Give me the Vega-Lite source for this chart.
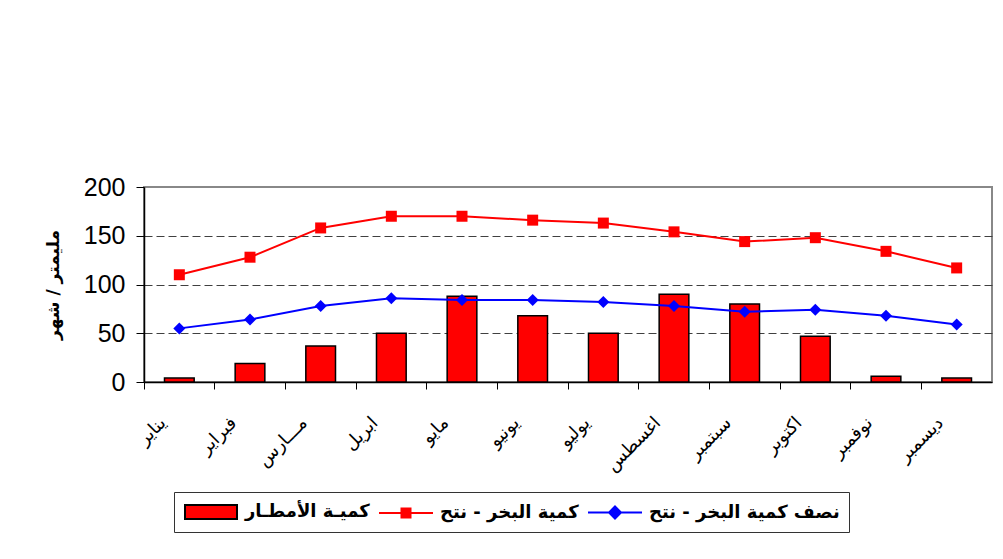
{
  "$schema": "https://vega.github.io/schema/vega-lite/v6.json",
  "width": 848,
  "height": 195,
  "autosize": {"type": "none"},
  "padding": {"left": 144, "top": 187, "right": 11, "bottom": 177},
  "background": "white",
  "data": {
    "values": [
      {"month": "يناير", "series": "كميـة الأمطـار", "value": 4},
      {"month": "فبراير", "series": "كميـة الأمطـار", "value": 19},
      {"month": "مـــارس", "series": "كميـة الأمطـار", "value": 37},
      {"month": "ابريل", "series": "كميـة الأمطـار", "value": 50},
      {"month": "مايو", "series": "كميـة الأمطـار", "value": 88},
      {"month": "يونيو", "series": "كميـة الأمطـار", "value": 68},
      {"month": "يوليو", "series": "كميـة الأمطـار", "value": 50},
      {"month": "اغسطس", "series": "كميـة الأمطـار", "value": 90},
      {"month": "سبتمبر", "series": "كميـة الأمطـار", "value": 80},
      {"month": "اكتوبر", "series": "كميـة الأمطـار", "value": 47},
      {"month": "نوفمبر", "series": "كميـة الأمطـار", "value": 6},
      {"month": "ديسمبر", "series": "كميـة الأمطـار", "value": 4},
      {"month": "يناير", "series": "كمية البخر - نتح", "value": 110},
      {"month": "فبراير", "series": "كمية البخر - نتح", "value": 128},
      {"month": "مـــارس", "series": "كمية البخر - نتح", "value": 158},
      {"month": "ابريل", "series": "كمية البخر - نتح", "value": 170},
      {"month": "مايو", "series": "كمية البخر - نتح", "value": 170},
      {"month": "يونيو", "series": "كمية البخر - نتح", "value": 166},
      {"month": "يوليو", "series": "كمية البخر - نتح", "value": 163},
      {"month": "اغسطس", "series": "كمية البخر - نتح", "value": 154},
      {"month": "سبتمبر", "series": "كمية البخر - نتح", "value": 144},
      {"month": "اكتوبر", "series": "كمية البخر - نتح", "value": 148},
      {"month": "نوفمبر", "series": "كمية البخر - نتح", "value": 134},
      {"month": "ديسمبر", "series": "كمية البخر - نتح", "value": 117},
      {"month": "يناير", "series": "نصف كمية البخر - نتح", "value": 55},
      {"month": "فبراير", "series": "نصف كمية البخر - نتح", "value": 64},
      {"month": "مـــارس", "series": "نصف كمية البخر - نتح", "value": 78},
      {"month": "ابريل", "series": "نصف كمية البخر - نتح", "value": 86},
      {"month": "مايو", "series": "نصف كمية البخر - نتح", "value": 84},
      {"month": "يونيو", "series": "نصف كمية البخر - نتح", "value": 84},
      {"month": "يوليو", "series": "نصف كمية البخر - نتح", "value": 82},
      {"month": "اغسطس", "series": "نصف كمية البخر - نتح", "value": 78},
      {"month": "سبتمبر", "series": "نصف كمية البخر - نتح", "value": 72},
      {"month": "اكتوبر", "series": "نصف كمية البخر - نتح", "value": 74},
      {"month": "نوفمبر", "series": "نصف كمية البخر - نتح", "value": 68},
      {"month": "ديسمبر", "series": "نصف كمية البخر - نتح", "value": 59}
    ]
  },
  "encoding": {
    "x": {
      "field": "month",
      "type": "nominal",
      "sort": ["يناير", "فبراير", "مـــارس", "ابريل", "مايو", "يونيو", "يوليو", "اغسطس", "سبتمبر", "اكتوبر", "نوفمبر", "ديسمبر"],
      "scale": {"paddingInner": 0, "paddingOuter": 0},
      "title": null,
      "axis": null
    },
    "y": {
      "field": "value",
      "type": "quantitative",
      "scale": {"domain": [0, 200], "nice": false},
      "title": "مليمتر / شهر",
      "axis": {
        "values": [0, 50, 100, 150, 200],
        "grid": true,
        "gridColor": "#404040",
        "gridDash": [8, 4],
        "gridWidth": 1,
        "gridOpacity": {"condition": {"test": "datum.value === 0 || datum.value === 200", "value": 0}, "value": 1},
        "domainColor": "black",
        "domainWidth": 1.5,
        "tickColor": "black",
        "tickSize": 8,
        "labelFont": "Liberation Sans",
        "labelFontSize": 25,
        "labelColor": "black",
        "labelPadding": 11,
        "titleFont": "DejaVu Sans",
        "titleFontSize": 17,
        "titleFontWeight": "bold",
        "titleColor": "black",
        "titlePadding": 21
      }
    }
  },
  "layer": [
    {
      "transform": [{"filter": "datum.series === 'كميـة الأمطـار'"}],
      "mark": {"type": "bar", "width": {"band": 0.42}, "strokeWidth": 1.5},
      "encoding": {
        "x": {
          "field": "month",
          "type": "nominal",
          "sort": ["يناير", "فبراير", "مـــارس", "ابريل", "مايو", "يونيو", "يوليو", "اغسطس", "سبتمبر", "اكتوبر", "نوفمبر", "ديسمبر"],
          "title": null,
          "axis": {
            "orient": "bottom",
            "bandPosition": 0,
            "labels": false,
            "domainColor": "black",
            "domainWidth": 1.5,
            "tickColor": "black",
            "tickSize": 7,
            "grid": false
          }
        },
        "fill": {
          "field": "series",
          "type": "nominal",
          "scale": {
            "domain": ["كميـة الأمطـار", "كمية البخر - نتح", "نصف كمية البخر - نتح"],
            "range": ["#ff0000", "#ff0000", "#0000ff"]
          },
          "legend": {
            "orient": "none",
            "legendX": 30,
            "legendY": 305,
            "direction": "horizontal",
            "title": null,
            "strokeColor": "#333333",
            "fillColor": "white",
            "padding": 9,
            "labelFont": "DejaVu Sans",
            "labelFontSize": 18,
            "labelFontWeight": "bold",
            "labelColor": "black",
            "labelLimit": 400,
            "symbolSize": 400,
            "symbolOffset": 17,
            "labelOffset": 23,
            "columnPadding": 5,
            "encode": {
              "symbols": {
                "update": {
                  "shape": {"signal": "datum.index === 0 ? 'M-2.6,-0.7H2.6V0.7H-2.6Z' : datum.index === 1 ? 'M-2.7,0H2.7M-0.45,-0.45H0.45V0.45H-0.45Z' : 'M-2.7,0H2.7M0,-0.6L0.6,0L0,0.6L-0.6,0Z'"},
                  "strokeWidth": {"value": 2},
                  "opacity": {"value": 1}
                }
              }
            }
          }
        },
        "stroke": {
          "field": "series",
          "type": "nominal",
          "scale": {
            "domain": ["كميـة الأمطـار", "كمية البخر - نتح", "نصف كمية البخر - نتح"],
            "range": ["#000000", "#ff0000", "#0000ff"]
          },
          "legend": {
            "orient": "none",
            "legendX": 30,
            "legendY": 305,
            "direction": "horizontal",
            "title": null,
            "strokeColor": "#333333",
            "fillColor": "white",
            "padding": 9,
            "labelFont": "DejaVu Sans",
            "labelFontSize": 18,
            "labelFontWeight": "bold",
            "labelColor": "black",
            "labelLimit": 400,
            "symbolSize": 400,
            "symbolOffset": 17,
            "labelOffset": 23,
            "columnPadding": 5,
            "encode": {
              "symbols": {
                "update": {
                  "shape": {"signal": "datum.index === 0 ? 'M-2.6,-0.7H2.6V0.7H-2.6Z' : datum.index === 1 ? 'M-2.7,0H2.7M-0.45,-0.45H0.45V0.45H-0.45Z' : 'M-2.7,0H2.7M0,-0.6L0.6,0L0,0.6L-0.6,0Z'"},
                  "strokeWidth": {"value": 2},
                  "opacity": {"value": 1}
                }
              }
            }
          }
        }
      }
    },
    {
      "transform": [{"filter": "datum.series !== 'كميـة الأمطـار'"}],
      "mark": {"type": "line", "strokeWidth": 2},
      "encoding": {
        "x": {
          "field": "month",
          "type": "nominal",
          "sort": ["يناير", "فبراير", "مـــارس", "ابريل", "مايو", "يونيو", "يوليو", "اغسطس", "سبتمبر", "اكتوبر", "نوفمبر", "ديسمبر"],
          "title": null,
          "axis": {
            "orient": "bottom",
            "ticks": false,
            "domain": false,
            "grid": false,
            "labelAngle": -45,
            "labelAlign": "right",
            "labelBaseline": "middle",
            "labelFont": "DejaVu Sans",
            "labelFontSize": 18,
            "labelColor": "black",
            "labelPadding": 38,
            "labelOffset": -16
          }
        },
        "stroke": {"field": "series", "type": "nominal"}
      }
    },
    {
      "transform": [{"filter": "datum.series !== 'كميـة الأمطـار'"}],
      "mark": {"type": "point", "filled": true, "opacity": 1, "strokeWidth": 0},
      "encoding": {
        "fill": {"field": "series", "type": "nominal"},
        "shape": {
          "field": "series",
          "type": "nominal",
          "scale": {"domain": ["كمية البخر - نتح", "نصف كمية البخر - نتح"], "range": ["square", "diamond"]},
          "legend": null
        },
        "size": {
          "field": "series",
          "type": "nominal",
          "scale": {"domain": ["كمية البخر - نتح", "نصف كمية البخر - نتح"], "range": [121, 144]},
          "legend": null
        }
      }
    }
  ],
  "resolve": {"axis": {"x": "independent"}},
  "config": {
    "view": {"stroke": "#888888", "strokeWidth": 2},
    "axis": {"labelOverlap": false}
  }
}
